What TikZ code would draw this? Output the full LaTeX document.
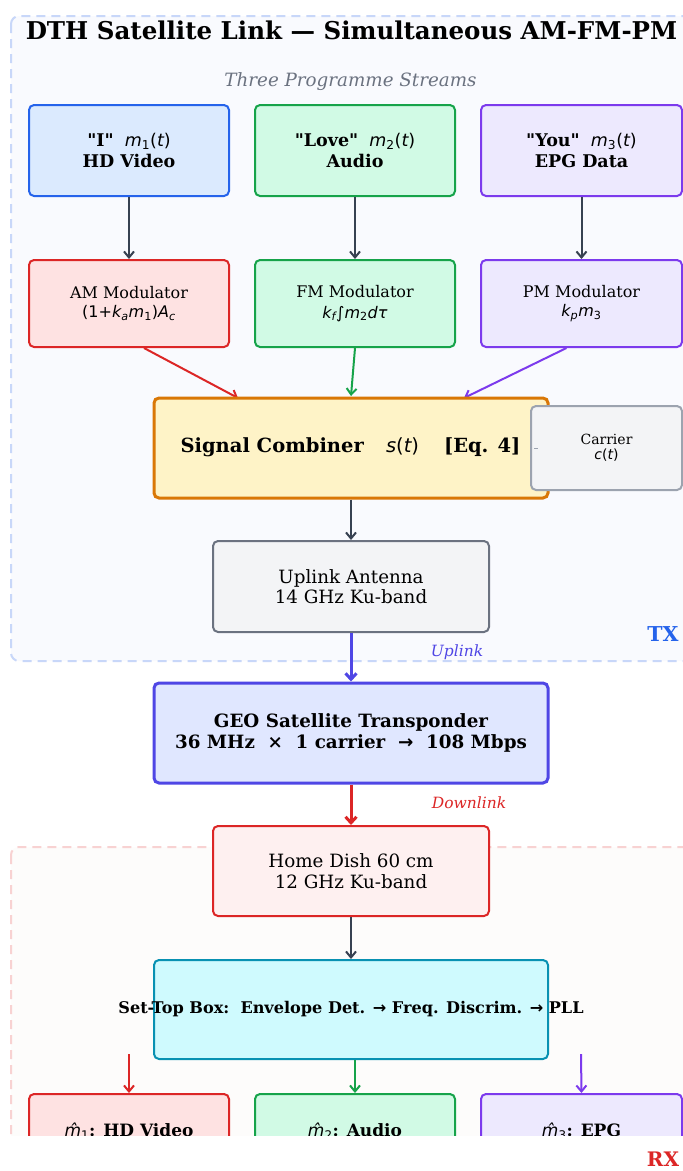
\documentclass[tikz,border=0pt]{standalone}
\usepackage{fontspec}
\setmainfont{DejaVu Serif}[Ligatures=TeXOff]
\newfontfamily\dvs{DejaVu Sans}
\usetikzlibrary{arrows.meta}
\definecolor{cBlue}{HTML}{2563EB}
\definecolor{cBlueF}{HTML}{DBEAFE}
\definecolor{cGreen}{HTML}{16A34A}
\definecolor{cGreenF}{HTML}{D1FAE5}
\definecolor{cPurp}{HTML}{7C3AED}
\definecolor{cPurpF}{HTML}{EDE9FE}
\definecolor{cRed}{HTML}{DC2626}
\definecolor{cRedF}{HTML}{FEE2E2}
\definecolor{cOrange}{HTML}{D97706}
\definecolor{cOrangeF}{HTML}{FEF3C7}
\definecolor{cGray}{HTML}{6B7280}
\definecolor{cGrayL}{HTML}{9CA3AF}
\definecolor{cGrayF}{HTML}{F3F4F6}
\definecolor{cDark}{HTML}{374151}
\definecolor{cIndigo}{HTML}{4F46E5}
\definecolor{cIndigoF}{HTML}{E0E7FF}
\definecolor{cCyan}{HTML}{0891B2}
\definecolor{cCyanF}{HTML}{CFFAFE}
\definecolor{cDishF}{HTML}{FEF0F0}
\definecolor{txFill}{HTML}{F9FAFE}
\definecolor{txLine}{HTML}{C8D7F9}
\definecolor{rxFill}{HTML}{FDFCFB}
\definecolor{rxLine}{HTML}{F8D2D2}
\newcommand\fs[2]{\fontsize{#1}{#2}\selectfont}
\newcommand\mi[1]{{\dvs\itshape #1}}
\newcommand\mt[1]{{\dvs\upshape #1}}
\newcommand\sbi[1]{\textsubscript{\dvs\itshape #1}}
\newcommand\sbu[1]{\textsubscript{\dvs\upshape #1}}
\newcommand\qq{"}
\begin{document}
\begin{tikzpicture}[x=1pt,y=-1pt,
  box/.style={draw, rounded corners=5pt, line width=2pt, inner sep=0pt, align=center, text=black},
  region/.style={dashed, dash pattern=on 9pt off 6pt, line width=2pt, rounded corners=8pt},
  conn/.style={line width=2pt, -{Straight Barb[length=6pt,width=10pt]}},
  thick conn/.style={line width=3pt, -{Straight Barb[length=6pt,width=11pt]}}
]
\useasboundingbox (0,0) rectangle (683,1171);
\fill[white] (0,0) rectangle (683,1171);
% regions
\draw[region, draw=txLine, fill=txFill] (11,16) rectangle (720,661);
\draw[region, draw=rxLine, fill=rxFill] (11,847) rectangle (720,1220);
% title
\node[font=\fs{24.5}{28}\bfseries] (title) at (351.5,30) {DTH Satellite Link — Simultaneous AM-FM-PM};
\node[font=\fs{18.3}{21}\itshape, text=cGray] (sub) at (350.5,82) {Three Programme Streams};
% sources
\node[box, draw=cBlue, fill=cBlueF, minimum width=200pt, minimum height=91pt, font=\fs{17.5}{21}] (s1) at (129,150.5)
  {\textbf{\qq I\qq}\ \ \mi{m}\sbu{1}\mt{(}\mi{t}\mt{)}\\\textbf{HD Video}};
\node[box, draw=cGreen, fill=cGreenF, minimum width=200pt, minimum height=91pt, font=\fs{17.5}{21}] (s2) at (355,150.5)
  {\textbf{\qq Love\qq}\ \ \mi{m}\sbu{2}\mt{(}\mi{t}\mt{)}\\\textbf{Audio}};
\node[box, draw=cPurp, fill=cPurpF, minimum width=201pt, minimum height=91pt, font=\fs{17.5}{21}] (s3) at (581.5,150.5)
  {\textbf{\qq You\qq}\ \ \mi{m}\sbu{3}\mt{(}\mi{t}\mt{)}\\\textbf{EPG Data}};
% modulators
\node[box, draw=cRed, fill=cRedF, minimum width=200pt, minimum height=87pt, font=\fs{16}{19.5}] (am) at (129,303.5)
  {AM Modulator\\\mt{(1+}\mi{k}\sbi{a}\mi{m}\sbu{1}\mt{)}\mi{A}\sbi{c}};
\node[box, draw=cGreen, fill=cGreenF, minimum width=200pt, minimum height=87pt, font=\fs{16}{20.5}] (fm) at (355,303.5)
  {FM Modulator\\\mi{k}\sbi{f}\mt{∫}\mi{m}\sbu{2}\mi{dτ}};
\node[box, draw=cPurp, fill=cPurpF, minimum width=201pt, minimum height=87pt, font=\fs{16}{19.5}] (pm) at (581.5,303.5)
  {PM Modulator\\\mi{k}\sbi{p}\mi{m}\sbu{3}};
% arrows source->mod
\draw[conn, cDark] (s1.south) -- (am.north);
\draw[conn, cDark] (s2.south) -- (fm.north);
\draw[conn, cDark] (s3.south) -- (pm.north);
% combiner
\coordinate (combTop) at (351,398);
\draw[conn, cRed] ([xshift=15pt]am.south) -- ([xshift=-113pt]combTop);
\draw[conn, cGreen] (fm.south) -- ([yshift=2pt]combTop);
\draw[conn, cPurp] ([xshift=-15pt]pm.south) -- ([xshift=113pt]combTop);
\node[box, line width=3pt, draw=cOrange, fill=cOrangeF, minimum width=394pt, minimum height=100pt] (comb) at (351,448) {};
\node[font=\fs{19.5}{22}, inner sep=0pt] (combt) at (350.5,447)
  {\textbf{Signal Combiner}\hspace{22pt}\mi{s}\mt{(}\mi{t}\mt{)}\hspace{25pt}\textbf{[Eq. 4]}};
\node[box, draw=cGrayL, fill=cGrayF, minimum width=151pt, minimum height=84pt, font=\fs{14}{15}] (car) at (606.5,448)
  {Carrier\\\mi{c}\mt{(}\mi{t}\mt{)}};
\draw[cGrayL, line width=1pt, dash pattern=on 0pt off 4pt on 4pt off 40pt] (car.west) -- (comb.east);
% uplink antenna
\node[box, draw=cGray, fill=cGrayF, minimum width=276pt, minimum height=91pt, font=\fs{18.3}{20}] (ant) at (351,586.5)
  {Uplink Antenna\\14 GHz Ku-band};
\draw[conn, cDark] (comb.south) -- (ant.north);
% labels TX
\node[font=\fs{20.5}{22}\bfseries, text=cBlue] (tx) at (663,634) {TX};
\node[font=\fs{15.5}{17}\itshape, text=cIndigo] (upl) at (457,652) {Uplink};
% GEO
\node[box, line width=3pt, draw=cIndigo, fill=cIndigoF, minimum width=394pt, minimum height=100pt, font=\fs{18.3}{21}\bfseries] (geo) at (351,733)
  {GEO Satellite Transponder\\36 MHz\ \ ×\ \ 1 carrier\ \ {\dvs\bfseries →}\ \ 108 Mbps};
\draw[thick conn, cIndigo] (ant.south) -- (geo.north);
\node[font=\fs{15.5}{17}\itshape, text=cRed] (dnl) at (469,803) {Downlink};
% dish
\node[box, draw=cRed, fill=cDishF, minimum width=276pt, minimum height=90pt, font=\fs{18.3}{21}] (dish) at (351,871)
  {Home Dish 60 cm\\12 GHz Ku-band};
\draw[thick conn, cRed] (geo.south) -- (dish.north);
% set-top
\node[box, draw=cCyan, fill=cCyanF, minimum width=394pt, minimum height=99pt] (stb) at (351,1009.5) {};
\node[font=\fs{16.1}{18}\bfseries] (stbt) at (351,1009) {Set-Top Box:\ \ Envelope Det. {\dvs\bfseries →} Freq. Discrim. {\dvs\bfseries →} PLL};
\draw[conn, cDark] (dish.south) -- (stb.north);
% outputs
\node[box, draw=cRed, fill=cRedF, minimum width=200pt, minimum height=87pt] (o1) at (129,1137.5) {};
\node[box, draw=cGreen, fill=cGreenF, minimum width=200pt, minimum height=87pt] (o2) at (355,1137.5) {};
\node[box, draw=cPurp, fill=cPurpF, minimum width=201pt, minimum height=87pt] (o3) at (581.5,1137.5) {};
\node[font=\fs{17}{19}] (o1t) at (129,1131) {\mi{m̂}\sbu{1}\textbf{: HD Video}};
\node[font=\fs{17}{19}] (o2t) at (355,1131) {\mi{m̂}\sbu{2}\textbf{: Audio}};
\node[font=\fs{17}{19}] (o3t) at (581.5,1131) {\mi{m̂}\sbu{3}\textbf{: EPG}};
\coordinate (r1) at (129,1054);
\coordinate (r3) at (581,1054);
\draw[conn, cRed] (r1) -- (o1.north);
\draw[conn, cGreen] (stb.south -| o2.north) -- (o2.north);
\draw[conn, cPurp] (r3) -- (o3.north);
% clip bottom
\fill[white] (0,1136) rectangle (683,1171);
\node[font=\fs{20}{22}\bfseries, text=cRed] (rx) at (663,1159.5) {RX};
\end{tikzpicture}
\end{document}
